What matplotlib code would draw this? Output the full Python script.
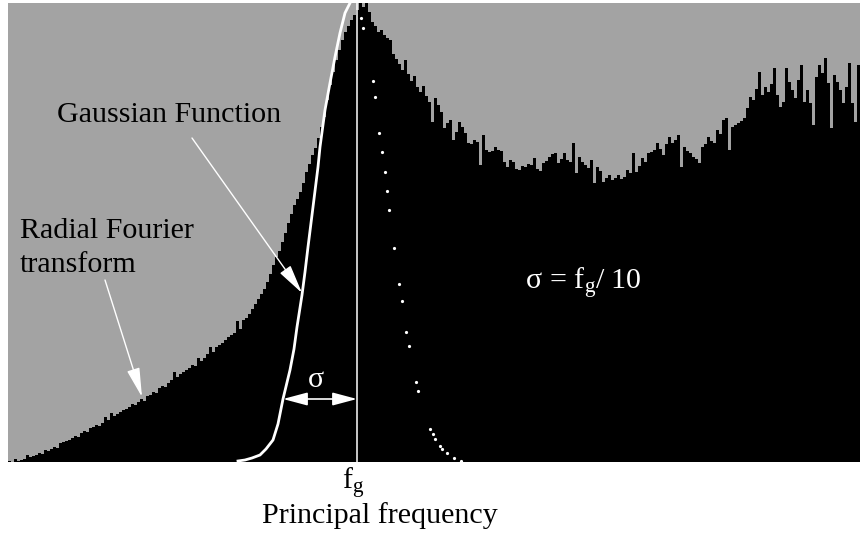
import numpy as np
import matplotlib.pyplot as plt

plt.rcParams['font.family'] = ['Liberation Serif', 'DejaVu Serif']
plt.rcParams['mathtext.fontset'] = 'custom'
plt.rcParams['mathtext.rm'] = 'Liberation Serif'
plt.rcParams['mathtext.it'] = 'Liberation Serif:italic'

# radial Fourier magnitude, one value per frequency bin (bin width 3)
magnitude = [
    1, 0, 3, 1, 2, 3, 7, 5, 6, 7, 9, 8, 12, 11, 13, 15, 14, 19, 20, 21,
    22, 24, 26, 25, 29, 31, 30, 34, 35, 37, 36, 39, 45, 42, 49, 46, 48, 50, 52, 53,
    55, 58, 57, 60, 63, 61, 66, 67, 70, 69, 74, 76, 75, 79, 82, 90, 85, 88, 90, 92,
    94, 97, 96, 104, 101, 104, 108, 115, 110, 115, 117, 119, 122, 125, 127, 129, 141, 133, 142, 144,
    148, 153, 158, 163, 168, 173, 180, 188, 197, 205, 211, 220, 229, 239, 248, 257, 263, 270, 279, 290,
    298, 307, 314, 324, 335, 345, 362, 377, 390, 402, 412, 422, 430, 436, 442, 447, 452, 459, 455, 459,
    450, 440, 436, 430, 432, 427, 424, 422, 408, 403, 398, 392, 402, 388, 381, 386, 375, 370, 376, 366,
    360, 340, 364, 357, 350, 334, 339, 342, 322, 330, 340, 335, 329, 319, 318, 322, 320, 297, 327, 312,
    310, 311, 315, 312, 311, 300, 295, 302, 300, 293, 292, 296, 295, 298, 297, 304, 293, 291, 299, 301,
    305, 308, 309, 299, 303, 309, 302, 300, 319, 289, 305, 300, 297, 294, 302, 279, 295, 291, 280, 284,
    287, 282, 284, 287, 283, 285, 292, 289, 309, 290, 296, 304, 300, 309, 310, 312, 319, 313, 307, 318,
    325, 319, 322, 327, 295, 315, 311, 309, 305, 303, 299, 315, 318, 325, 321, 319, 332, 328, 342, 344,
    312, 335, 337, 339, 341, 344, 354, 365, 362, 373, 390, 367, 375, 370, 378, 394, 367, 355, 360, 394,
    380, 372, 364, 382, 397, 360, 372, 359, 337, 385, 397, 389, 404, 379, 334, 387, 380, 372, 359, 375,
    399, 359, 340, 397,
]
BIN_WIDTH = 3

# gaussian, rising side (solid) and falling side (dotted)
gauss_left_f = [230, 237, 244, 252, 258, 265, 270, 275, 282, 286, 289, 294, 297,
                300, 305, 310, 312, 317, 322, 327, 332, 337, 342, 346]
gauss_left_h = [1, 2, 4, 7, 13, 22, 38, 63, 92, 113, 135, 167, 190,
                215, 255, 295, 315, 352, 379, 405, 429, 449, 459, 466]
gauss_right_f = [353, 355, 365, 367, 371, 374, 377, 379, 381, 386, 391, 394, 398, 401,
                 408, 410, 422, 425, 427, 432, 434, 439, 446, 453]
gauss_right_h = [444, 434, 381, 365, 329, 310, 290, 271, 252, 214, 178, 161, 130, 116,
                 80, 71, 33, 28, 23, 16, 13, 9, 4, 1]

f_g = 349
sigma_from = 275
sigma_level = 63

edges = np.arange(len(magnitude) + 1) * BIN_WIDTH

fig = plt.figure(figsize=(8.6, 5.33), dpi=100)
ax = fig.add_axes([8 / 860, 71 / 533, 852 / 860, 459 / 533])
ax.set_facecolor('#a3a3a3')

ax.stairs(magnitude, edges, fill=True, color='black', linewidth=0)
ax.plot(gauss_left_f, gauss_left_h, color='white', lw=2)
ax.plot(gauss_right_f, gauss_right_h, ls='none', marker='o', ms=2.3, mew=0, color='white')
ax.axvline(f_g, color='white', lw=1.1)

ax.set_xlim(0, 852)
ax.set_ylim(0, 459)
ax.set_xticks([])
ax.set_yticks([])
for s in ax.spines.values():
    s.set_visible(False)

fs = 21.6

# sigma width arrow
ax.annotate('', xy=(sigma_from, sigma_level), xytext=(f_g, sigma_level),
            arrowprops=dict(arrowstyle='<|-|>,head_length=1.5,head_width=0.4',
                            color='white', lw=1.2, shrinkA=0, shrinkB=0, mutation_scale=10))
ax.text(308, 75, 'σ', color='white', fontsize=fs, ha='center', va='baseline')
ax.text(517, 172, r'$\mathrm{σ}\,=\,\mathrm{f}_\mathrm{g}/\ 10$', color='white',
        fontsize=fs, ha='left', va='baseline')

# labels with arrows
ax.text(49, 340, 'Gaussian Function', fontsize=fs, ha='left', va='baseline')
ax.annotate('', xy=(294, 169), xytext=(184, 324),
            arrowprops=dict(arrowstyle='-|>,head_length=1.8,head_width=0.4',
                            color='white', lw=1, shrinkA=0, shrinkB=0, mutation_scale=10))
ax.text(12, 224, 'Radial Fourier', fontsize=fs, ha='left', va='baseline')
ax.text(12, 190, 'transform', fontsize=fs, ha='left', va='baseline')
ax.annotate('', xy=(134, 65), xytext=(97, 182),
            arrowprops=dict(arrowstyle='-|>,head_length=1.8,head_width=0.4',
                            color='white', lw=1, shrinkA=0, shrinkB=0, mutation_scale=10))

fig.text(353 / 860, (533 - 490) / 533, r'$\mathrm{f}_\mathrm{g}$', fontsize=fs,
         ha='center', va='baseline')
fig.text(380 / 860, (533 - 523) / 533, 'Principal frequency', fontsize=fs,
         ha='center', va='baseline')

fig.savefig('out.png', dpi=100)
